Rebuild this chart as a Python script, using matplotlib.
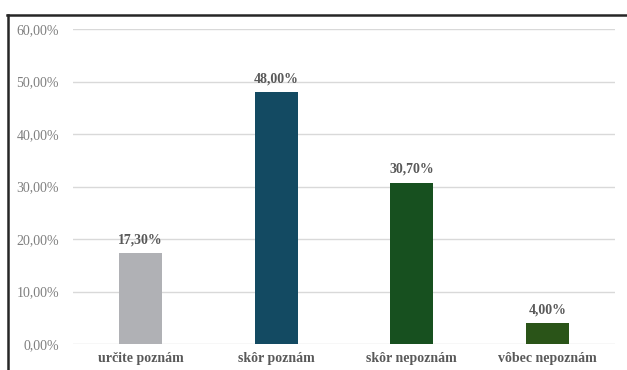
import matplotlib
matplotlib.use("Agg")
import matplotlib.pyplot as plt
from matplotlib.lines import Line2D
from matplotlib.ticker import FuncFormatter

categories = ["určite poznám", "skôr poznám", "skôr nepoznám", "vôbec nepoznám"]
values = [17.30, 48.00, 30.70, 4.00]
colors = ["#B0B1B5", "#134A62", "#17501F", "#2A5418"]
yticks = [0, 10, 20, 30, 40, 50, 60]

plt.rcParams["font.family"] = ["Liberation Serif", "DejaVu Serif"]

fig = plt.figure(figsize=(6.27, 3.70), dpi=100)
ax = fig.add_axes([73 / 627, 1 - 344 / 370, (615 - 73) / 627, (344 - 29) / 370])

x = list(range(len(categories)))
ax.bar(x, values, width=0.32, color=colors, zorder=3)

def pct(v):
    return f"{v:.2f}".replace(".", ",") + "%"

for xi, v in zip(x, values):
    ax.annotate(pct(v), (xi, v), xytext=(0, 5), textcoords="offset points",
                ha="center", va="bottom", fontsize=10, fontweight="bold",
                color="#595959")

ax.set_xlim(-0.5, 3.5)
ax.set_ylim(0, 60)
ax.set_yticks(yticks)
ax.yaxis.set_major_formatter(FuncFormatter(lambda v, _: pct(v)))
ax.set_xticks(x)
ax.set_xticklabels(categories, fontsize=10, fontweight="bold", color="#595959")
ax.tick_params(axis="y", labelsize=10, labelcolor="#7F7F7F", length=0, pad=10)
ax.tick_params(axis="x", length=0, pad=6)
ax.grid(axis="y", color="#D9D9D9", linewidth=1, zorder=0)
for s in ax.spines.values():
    s.set_visible(False)

# outer frame edges
fig.add_artist(Line2D([7 / 627, 1], [1 - 14.5 / 370, 1 - 14.5 / 370],
                      transform=fig.transFigure, color="#262626", linewidth=1.8))
fig.add_artist(Line2D([7.5 / 627, 7.5 / 627], [0, 1 - 14.5 / 370],
                      transform=fig.transFigure, color="#262626", linewidth=1.8))

fig.savefig("out.png", dpi=100)
